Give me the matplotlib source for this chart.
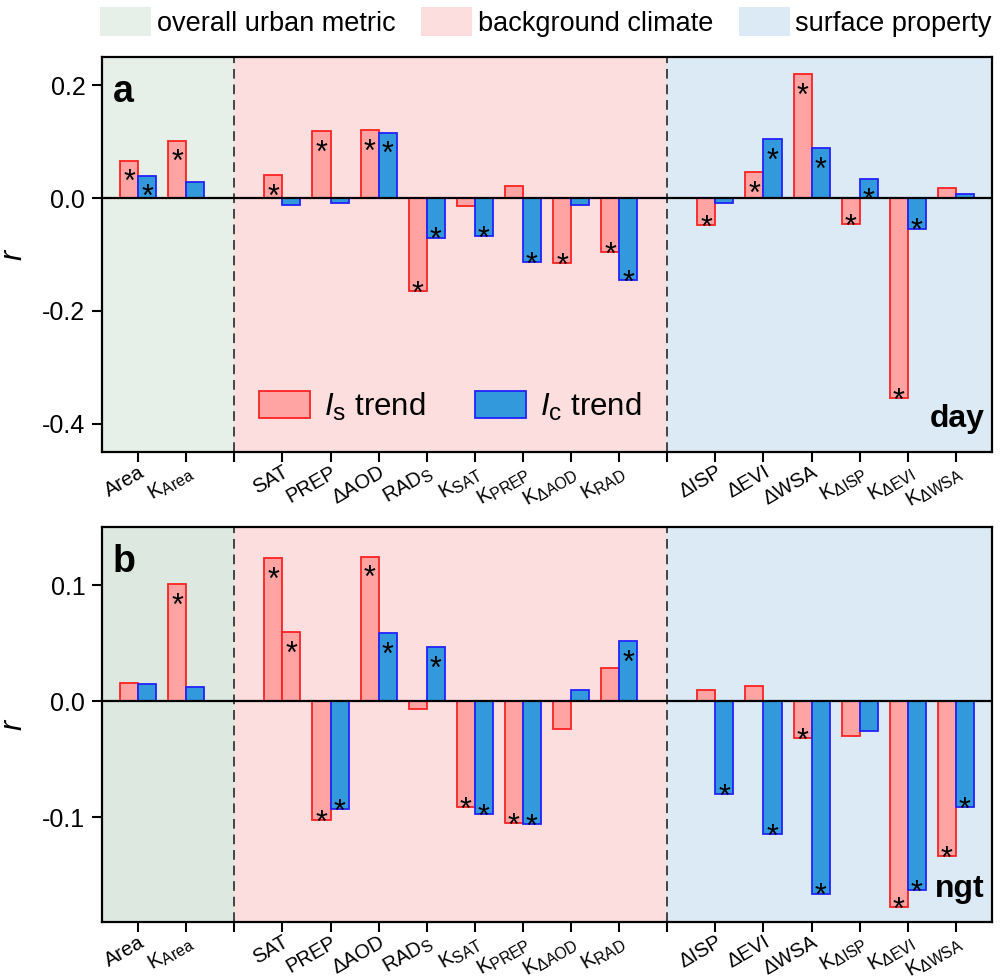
import matplotlib
matplotlib.use("Agg")
import matplotlib.pyplot as plt
import matplotlib._mathtext as _mt
from matplotlib.patches import Patch
from matplotlib.transforms import ScaledTranslation
import numpy as np

plt.rcParams['font.family'] = ['Liberation Sans', 'DejaVu Sans']
plt.rcParams['mathtext.fontset'] = 'custom'
plt.rcParams['mathtext.rm'] = 'Liberation Sans'
plt.rcParams['mathtext.it'] = 'Liberation Sans:italic'
plt.rcParams['mathtext.bf'] = 'Liberation Sans:bold'
_mt.SHRINK_FACTOR = 0.78   # slightly larger subscripts, as in the original

# ---------------- data ----------------
categories = ["Area", "K_Area", "", "SAT", "PREP", "ΔAOD", "RAD_S", "K_SAT", "K_PREP",
              "K_ΔAOD", "K_RAD", "", "ΔISP", "ΔEVI", "ΔWSA", "K_ΔISP", "K_ΔEVI", "K_ΔWSA"]
tick_labels = ["Area", r"K$_{\mathrm{Area}}$", "", "SAT", "PREP", "ΔAOD", r"RAD$_{\mathrm{S}}$",
               r"K$_{\mathrm{SAT}}$", r"K$_{\mathrm{PREP}}$", r"K$_{\mathrm{ΔAOD}}$",
               r"K$_{\mathrm{RAD}}$", "", "ΔISP", "ΔEVI", "ΔWSA", r"K$_{\mathrm{ΔISP}}$",
               r"K$_{\mathrm{ΔEVI}}$", r"K$_{\mathrm{ΔWSA}}$"]

# day (panel a); None = separator slot
day_is = [0.066, 0.102, None, 0.041, 0.119, 0.120, -0.164, -0.014, 0.021,
          -0.115, -0.096, None, -0.048, 0.046, 0.220, -0.046, -0.355, 0.017]
day_ic = [0.040, 0.028, None, -0.012, -0.009, 0.116, -0.070, -0.067, -0.114,
          -0.013, -0.145, None, -0.008, 0.104, 0.089, 0.033, -0.054, 0.0065]
day_is_sig = [1, 1, 0, 1, 1, 1, 1, 0, 0, 1, 1, 0, 1, 1, 1, 1, 1, 0]
day_ic_sig = [1, 0, 0, 0, 0, 1, 1, 1, 1, 0, 1, 0, 0, 1, 1, 1, 1, 0]

# night (panel b)
ngt_is = [0.016, 0.101, None, 0.123, -0.102, 0.1245, -0.007, -0.091, -0.105,
          -0.024, 0.029, None, 0.0095, 0.013, -0.0315, -0.030, -0.177, -0.133]
ngt_ic = [0.015, 0.012, None, 0.0595, -0.093, 0.0587, 0.0466, -0.097, -0.106,
          0.0095, 0.052, None, -0.080, -0.114, -0.1655, -0.026, -0.1625, -0.091]
ngt_is_sig = [0, 1, 0, 1, 1, 1, 0, 1, 1, 0, 0, 0, 0, 0, 1, 0, 1, 1]
ngt_ic_sig = [0, 0, 0, 1, 1, 1, 1, 1, 1, 0, 1, 0, 1, 1, 1, 0, 1, 1]
ngt_ic_drawn_red = ["SAT"]   # in the original this Ic bar is drawn in red

groups = ["overall urban metric", "background climate", "surface property"]
group_bounds = [(-0.75, 2), (2, 11), (11, 17.75)]

# ---------------- style ----------------
red_face, red_edge = "#ffa3a3", "#ff2222"
blue_face, blue_edge = "#3399dd", "#2222ff"
bg_a = ["#e6efe8", "#fddede", "#dbeaf4"]
bg_b = ["#dde9e0", "#fddede", "#dbeaf4"]
W = 0.375

fig = plt.figure(figsize=(10.02, 9.8), dpi=100)
ax_a = fig.add_axes([0.1018, 0.5388, 0.8882, 0.4030])
ax_b = fig.add_axes([0.1018, 0.0592, 0.8882, 0.4030])

x = np.arange(len(categories))


def draw(ax, vis, vic, sis, sic, bgs, ylim, yticks, ytl, label, tag, red_override=()):
    for (lo, hi), c in zip(group_bounds, bgs):
        ax.axvspan(lo, hi, color=c, lw=0, zorder=0)
    for xs in (2, 11):
        ax.axvline(xs, color="#444444", lw=1.4, ls=(0, (5, 3)), zorder=1)
    for i, cat in enumerate(categories):
        if vis[i] is None:
            continue
        ax.bar(x[i] - W / 2, vis[i], width=W, color=red_face, edgecolor=red_edge,
               lw=1.3, zorder=2)
        if cat in red_override:
            fc, ec = red_face, red_edge
        else:
            fc, ec = blue_face, blue_edge
        ax.bar(x[i] + W / 2, vic[i], width=W, color=fc, edgecolor=ec, lw=1.3, zorder=2)
        for v, s, dx in ((vis[i], sis[i], -W / 2), (vic[i], sic[i], W / 2)):
            if s:
                off = -22 if v > 0 else -8.5
                ax.annotate("*", (x[i] + dx, v), xytext=(0, off), textcoords="offset points",
                            ha="center", va="baseline", fontsize=22, zorder=4)
    ax.axhline(0, color="black", lw=1.6, zorder=3)
    ax.set_xlim(-0.75, 17.75)
    ax.set_ylim(*ylim)
    ax.set_yticks(yticks)
    ax.set_yticklabels(ytl, fontsize=18)
    ax.set_xticks(x)
    ax.set_xticklabels(tick_labels, rotation=30, ha="right", va="top",
                       rotation_mode="anchor", fontsize=14.5)
    shift = ScaledTranslation(10 / 100, 0, fig.dpi_scale_trans)
    for t in ax.get_xticklabels():
        t.set_transform(t.get_transform() + shift)
    ax.tick_params(axis="both", direction="out", length=7, width=1.5)
    ax.tick_params(axis="x", pad=0.5)
    ax.tick_params(axis="y", pad=5)
    for sp in ax.spines.values():
        sp.set_linewidth(1.6)
    ax.set_ylabel("r", fontstyle="italic", fontsize=22, labelpad=10)
    ax.text(0.012, 0.958, label, transform=ax.transAxes, fontsize=27, fontweight="bold",
            ha="left", va="top")
    ax.text(0.992, 0.045, tag, transform=ax.transAxes, fontsize=23, fontweight="bold",
            ha="right", va="bottom")


draw(ax_a, day_is, day_ic, day_is_sig, day_ic_sig, bg_a, (-0.45, 0.25),
     [0.2, 0.0, -0.2, -0.4], ["0.2", "0.0", "-0.2", "-0.4"], "a", "day")
draw(ax_b, ngt_is, ngt_ic, ngt_is_sig, ngt_ic_sig, bg_b, (-0.19, 0.15),
     [0.1, 0.0, -0.1], ["0.1", "0.0", "-0.1"], "b", "ngt", red_override=ngt_ic_drawn_red)

# series legend in panel a
h_is = Patch(facecolor=red_face, edgecolor=red_edge, lw=1.3)
h_ic = Patch(facecolor=blue_face, edgecolor=blue_edge, lw=1.3)
ax_a.legend([h_is, h_ic], [r"$I_{\mathrm{s}}$ trend", r"$I_{\mathrm{c}}$ trend"],
            ncol=2, frameon=False, fontsize=22.5, handlelength=1.63, handleheight=0.97,
            handletextpad=0.45, columnspacing=1.6, loc="center left",
            bbox_to_anchor=(0.162, 0.115), borderaxespad=0)

# group legend on top
gh = [Patch(facecolor=c, edgecolor="none") for c in bg_a]
fig.legend(gh, groups, ncol=3, frameon=False, fontsize=19.5, handlelength=1.87,
           handleheight=1.3, handletextpad=0.22, columnspacing=0.95,
           loc="upper left", bbox_to_anchor=(0.1, 0.993), borderaxespad=0, borderpad=0)

fig.savefig("out.png", dpi=100)
